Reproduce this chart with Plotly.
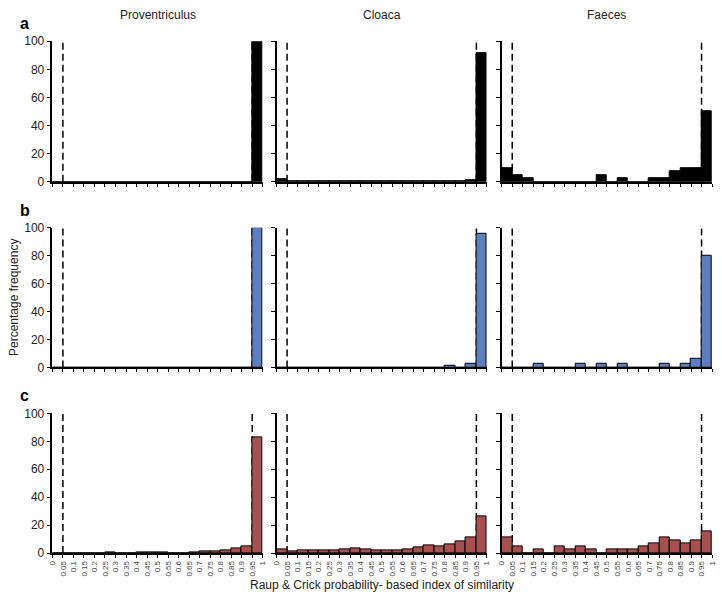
import plotly.graph_objects as go

# ---------------- data ----------------
bin_edges = [0, 0.05, 0.1, 0.15, 0.2, 0.25, 0.3, 0.35, 0.4, 0.45, 0.5,
             0.55, 0.6, 0.65, 0.7, 0.75, 0.8, 0.85, 0.9, 0.95, 1]
tick_labels = ["0", "0.05", "0.1", "0.15", "0.2", "0.25", "0.3", "0.35", "0.4", "0.45", "0.5",
               "0.55", "0.6", "0.65", "0.7", "0.75", "0.8", "0.85", "0.9", "0.95", "1"]
columns = ["Proventriculus", "Cloaca", "Faeces"]
row_letters = ["a", "b", "c"]
thresholds = [0.05, 0.95]

prov_a = [0, 0, 0, 0, 0, 0, 0, 0, 0, 0, 0, 0, 0, 0, 0, 0, 0, 0, 0, 100]
cloaca_a = [2, 0.3, 0.5, 0.5, 0.3, 0.3, 0.3, 0.5, 0.3, 0.3, 0.5, 0.3, 0.5, 0.5, 0.3, 0.5, 0.5, 0.3, 1.5, 91.5]
faeces_a = [10, 5, 2.5, 0, 0, 0, 0, 0, 0, 5, 0, 2.5, 0, 0, 2.5, 2.5, 7.5, 10, 10, 50]

prov_b = [0, 0, 0, 0, 0, 0, 0, 0, 0, 0, 0, 0, 0, 0, 0, 0, 0, 0, 0, 100]
cloaca_b = [0, 0, 0, 0, 0, 0, 0, 0, 0, 0, 0, 0, 0, 0, 0, 0, 1, 0, 3, 96]
faeces_b = [0, 0, 0, 2.5, 0, 0, 0, 2.5, 0, 2.5, 0, 2.5, 0, 0, 0, 2.5, 0, 2.5, 6.5, 80]

prov_c = [0, 0, 0, 0, 0, 0.7, 0, 0, 0.5, 0.5, 0.3, 0, 0, 0.8, 1, 1, 1.8, 3.7, 4.7, 83]
cloaca_c = [2.3, 1.4, 1.9, 1.9, 1.6, 1.9, 2.6, 3.7, 2.3, 1.9, 2.1, 2.1, 2.3, 4.2, 5.3, 5.1, 6, 8.1, 11.2, 26.5]
faeces_c = [11.4, 4.6, 0, 2.5, 0, 4.6, 2.3, 4.6, 2.5, 0, 2.5, 2.5, 2.5, 4.6, 7, 11.4, 9.3, 6.7, 9, 15.8]

rows = [[prov_a, cloaca_a, faeces_a],
        [prov_b, cloaca_b, faeces_b],
        [prov_c, cloaca_c, faeces_c]]
row_colors = ["#000000", "#5b7fbf", "#a65150"]

# ---------------- layout geometry (pixels) ----------------
W, H = 722, 606
col_px = [(49, 262), (276, 489), (504, 717)]
row_px = [(35, 179), (226, 369), (416, 559)]
FONT = "Arial, Liberation Sans, sans-serif"
TXT = "#222222"

centers = [(bin_edges[i] + bin_edges[i + 1]) / 2 for i in range(len(bin_edges) - 1)]
widths = [bin_edges[i + 1] - bin_edges[i] for i in range(len(bin_edges) - 1)]

fig = go.Figure()
layout = dict(width=W, height=H, margin=dict(l=0, r=0, t=0, b=0),
              paper_bgcolor="white", plot_bgcolor="white", showlegend=False,
              bargap=0, font=dict(family=FONT, color=TXT))
shapes = []
annotations = []

for r in range(3):
    for c in range(3):
        k = r * 3 + c + 1
        xa = "x" if k == 1 else f"x{k}"
        ya = "y" if k == 1 else f"y{k}"
        xkey = "xaxis" if k == 1 else f"xaxis{k}"
        ykey = "yaxis" if k == 1 else f"yaxis{k}"
        x0, x1 = col_px[c]
        y0, y1 = row_px[r]
        layout[xkey] = dict(
            domain=[x0 / W, x1 / W], anchor=ya, range=[0, 1],
            tickmode="array", tickvals=bin_edges, ticktext=tick_labels,
            showticklabels=(r == 2), tickangle=-90,
            tickfont=dict(size=8, color="#444444"),
            ticks="outside", ticklen=3, tickwidth=1, tickcolor="black",
            showline=True, linecolor="black", linewidth=1.5,
            showgrid=False, zeroline=False, fixedrange=True)
        layout[ykey] = dict(
            domain=[1 - y1 / H, 1 - y0 / H], anchor=xa, range=[0, 100],
            tickvals=[0, 20, 40, 60, 80, 100],
            showticklabels=(c == 0), tickfont=dict(size=12, color=TXT),
            ticks="outside", ticklen=4, tickwidth=1, tickcolor="black",
            showline=True, linecolor="black", linewidth=1.5,
            showgrid=False, zeroline=False, fixedrange=True)
        fig.add_trace(go.Bar(
            x=centers, y=rows[r][c], width=widths, xaxis=xa, yaxis=ya,
            marker=dict(color=row_colors[r], line=dict(color="black", width=1)),
            hoverinfo="x+y"))
        for t in thresholds:
            shapes.append(dict(type="line", xref=xa, yref=ya, x0=t, x1=t, y0=0, y1=100,
                               line=dict(color="black", width=1.5, dash="7px,4px"),
                               layer="below"))

# column titles
for c, name in enumerate(columns):
    x0, x1 = col_px[c]
    annotations.append(dict(text=name, xref="paper", yref="paper",
                            x=(x0 + x1) / 2 / W, y=1 - 8 / H, showarrow=False,
                            xanchor="center", yanchor="middle",
                            font=dict(size=12, color=TXT)))
# row letters
for r, letter in enumerate(row_letters):
    annotations.append(dict(text=f"<b>{letter}</b>", xref="paper", yref="paper",
                            x=21 / W, y=1 - (row_px[r][0] - 18) / H, showarrow=False,
                            xanchor="center", yanchor="middle",
                            font=dict(size=16, color="black")))
# axis titles
annotations.append(dict(text="Percentage frequency", xref="paper", yref="paper",
                        x=10 / W, y=1 - 297 / H, showarrow=False, textangle=-90,
                        xanchor="center", yanchor="middle",
                        font=dict(size=12, color=TXT)))
annotations.append(dict(text="Raup &amp; Crick probability- based index of similarity",
                        xref="paper", yref="paper",
                        x=383 / W, y=1 - 592 / H, showarrow=False,
                        xanchor="center", yanchor="middle",
                        font=dict(size=12, color=TXT)))

layout["shapes"] = shapes
layout["annotations"] = annotations
fig.update_layout(**layout)
fig.write_html("out.html", config={"displayModeBar": False},
               post_script="document.body.style.margin='0';document.body.style.overflow='hidden';")
